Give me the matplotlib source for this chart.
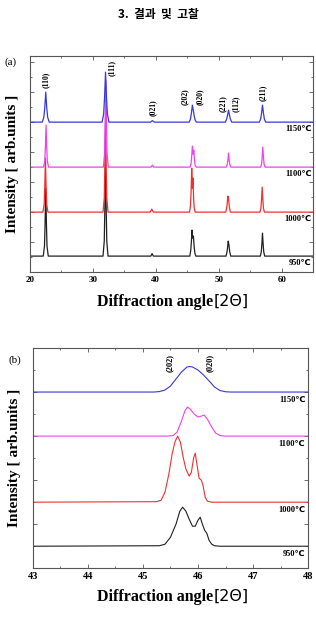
import matplotlib
matplotlib.use("Agg")
from matplotlib import pyplot as plt
from matplotlib.ticker import MultipleLocator, NullFormatter
from matplotlib.offsetbox import TextArea, HPacker, AnchoredOffsetbox

# ---- data: (2theta, intensity in a.u.) ----
temps = ['950℃', '1000℃', '1100℃', '1150℃']
colors = ['#202020', '#f03030', '#f040f0', '#3838d8']

# panel (a): wide scan 20-65 deg
scan_950 = [(20, 0), (22.1, 0), (22.3, 10), (22.4, 34), (22.5, 68), (22.6, 34), (22.7, 10), (22.9, 0),
            (31.6, 0), (31.8, 15), (31.9, 50), (32.0, 100), (32.1, 50), (32.2, 15), (32.4, 0),
            (39.2, 0), (39.4, 2.5), (39.6, 0),
            (45.4, 0), (45.55, 6), (45.65, 15), (45.75, 26), (45.85, 18), (45.97, 20),
            (46.08, 10), (46.2, 3), (46.35, 0),
            (51.15, 0), (51.3, 4), (51.4, 9), (51.5, 15), (51.62, 11), (51.72, 5), (51.9, 0),
            (56.6, 0), (56.75, 4), (56.85, 12), (56.95, 23), (57.05, 12), (57.15, 4), (57.3, 0),
            (65, 0)]
scan_1000 = [(20, 0), (22.05, 0), (22.25, 8), (22.35, 27), (22.45, 54), (22.55, 27), (22.65, 8), (22.85, 0),
             (31.6, 0), (31.8, 14), (31.9, 48), (32.0, 95), (32.1, 48), (32.2, 14), (32.4, 0),
             (39.1, 0), (39.35, 3), (39.6, 0),
             (45.35, 0), (45.5, 6), (45.6, 20), (45.7, 44), (45.8, 24), (45.9, 34), (46.0, 14),
             (46.1, 4), (46.25, 0),
             (51.1, 0), (51.25, 4), (51.35, 9), (51.45, 16), (51.58, 12), (51.68, 5), (51.85, 0),
             (56.55, 0), (56.7, 4), (56.8, 13), (56.9, 25), (57.0, 13), (57.1, 4), (57.25, 0),
             (65, 0)]
scan_1100 = [(20, 0), (22.15, 0), (22.35, 6), (22.45, 21), (22.55, 42), (22.65, 21), (22.75, 6), (22.95, 0),
             (31.65, 0), (31.85, 13), (31.95, 44), (32.05, 87), (32.15, 44), (32.25, 13), (32.45, 0),
             (39.25, 0), (39.45, 2), (39.65, 0),
             (45.45, 0), (45.6, 4), (45.7, 11), (45.8, 21), (45.92, 13), (46.03, 17), (46.13, 8),
             (46.23, 2), (46.4, 0),
             (51.2, 0), (51.35, 3), (51.45, 7), (51.55, 14), (51.65, 7), (51.75, 3), (51.9, 0),
             (56.65, 0), (56.8, 3), (56.9, 10), (57.0, 20), (57.1, 10), (57.2, 3), (57.35, 0),
             (65, 0)]
scan_1150 = [(20, 0), (21.95, 0), (22.2, 5), (22.35, 15), (22.5, 30), (22.65, 15), (22.8, 5), (23.05, 0),
             (31.45, 0), (31.7, 8), (31.85, 25), (32.0, 50), (32.15, 25), (32.3, 8), (32.55, 0),
             (39.15, 0), (39.45, 1.5), (39.75, 0),
             (45.3, 0), (45.5, 3), (45.65, 9), (45.8, 17), (45.95, 12), (46.1, 6), (46.25, 2), (46.45, 0),
             (51.05, 0), (51.25, 3), (51.4, 7), (51.55, 12), (51.7, 7), (51.85, 3), (52.05, 0),
             (56.45, 0), (56.65, 3), (56.8, 9), (56.95, 17), (57.1, 9), (57.25, 3), (57.45, 0),
             (65, 0)]

# panel (b): zoom 43-48 deg
zoom_950 = [(43, 0), (45.3, 0.5), (45.4, 2), (45.5, 9), (45.6, 22), (45.67, 35), (45.72, 39),
            (45.78, 35), (45.84, 27), (45.9, 20), (45.95, 20), (46.0, 26), (46.04, 29),
            (46.08, 22), (46.12, 16), (46.16, 13), (46.2, 6), (46.25, 2), (46.3, 0.5),
            (46.4, 0), (48, 0)]
zoom_1000 = [(43, 0), (45.25, 0.5), (45.33, 2), (45.4, 10), (45.47, 28), (45.53, 48),
             (45.58, 60), (45.63, 66), (45.68, 60), (45.73, 45), (45.78, 33), (45.84, 26),
             (45.88, 30), (45.92, 44), (45.95, 49), (45.98, 38), (46.02, 24), (46.06, 22),
             (46.09, 17), (46.13, 5), (46.17, 1), (46.25, 0), (48, 0)]
zoom_1100 = [(43, 0), (45.45, 0), (45.55, 0.5), (45.62, 4), (45.7, 15), (45.76, 25),
             (45.81, 29), (45.86, 27), (45.93, 22), (46.0, 19), (46.06, 20), (46.11, 21),
             (46.17, 17), (46.25, 9), (46.32, 3), (46.4, 0.5), (46.5, 0), (48, 0)]
zoom_1150 = [(43, 0), (45.2, 0), (45.3, 0.5), (45.4, 2), (45.5, 6), (45.6, 13), (45.7, 20),
             (45.8, 25), (45.85, 25.5), (45.9, 25), (46.0, 22), (46.1, 17), (46.22, 10),
             (46.3, 5), (46.4, 1.5), (46.5, 0.3), (46.6, 0), (48, 0)]

scans_a = [scan_950, scan_1000, scan_1100, scan_1150]
scans_b = [zoom_950, zoom_1000, zoom_1100, zoom_1150]
offsets_a = [16, 60, 105, 150]
offsets_b = [22, 66, 132, 176]

hkl_a = ['(110)', '(111)', '(021)', '(202)', '(020)', '(221)', '(112)', '(211)']
hkl_a_pos = [(22.5, 192), (33.0, 204), (39.5, 164), (44.6, 175), (47.0, 175),
             (50.6, 169), (52.7, 168), (57.0, 179)]
hkl_b = ['(202)', '(020)']
hkl_b_pos = [(45.49, 205), (46.22, 205)]

SERIF = ['Liberation Serif', 'DejaVu Sans']


def xrd_panel(ax, scans, offsets, xlim, ylim, xmaj, xmin, ymaj, tick_size, lw):
    for scan, off, c in zip(scans, offsets, colors):
        xs = [p[0] for p in scan]
        ys = [p[1] + off for p in scan]
        ax.plot(xs, ys, color=c, lw=lw)
    ax.set_xlim(*xlim)
    ax.set_ylim(*ylim)
    ax.xaxis.set_major_locator(MultipleLocator(xmaj))
    ax.xaxis.set_minor_locator(MultipleLocator(xmin))
    ax.yaxis.set_major_locator(MultipleLocator(ymaj))
    ax.yaxis.set_minor_locator(MultipleLocator(ymaj / 2))
    ax.yaxis.set_major_formatter(NullFormatter())
    ax.tick_params(which='both', direction='in', top=True, right=True, width=0.6, color='#555555')
    ax.tick_params(which='major', length=3, pad=3)
    ax.tick_params(which='minor', length=1.5)
    for lab in ax.get_xticklabels():
        lab.set_family(SERIF)
        lab.set_weight('bold')
        lab.set_size(tick_size)
    for s in ax.spines.values():
        s.set_color('#555555')
        s.set_linewidth(0.8)


def x_title(fig, y):
    t1 = TextArea("Diffraction angle", textprops=dict(family=SERIF, weight='bold', size=11.5))
    t2 = TextArea("[2Θ]", textprops=dict(family='DejaVu Sans', size=11.5))
    box = HPacker(children=[t1, t2], align='baseline', pad=0, sep=0)
    anc = AnchoredOffsetbox(loc='center', child=box, frameon=False, pad=0, borderpad=0,
                            bbox_to_anchor=(0.547, y), bbox_transform=fig.transFigure)
    fig.add_artist(anc)


fig = plt.figure(figsize=(3.16, 6.17), dpi=100)

fig.text(0.5, 0.976, '3.  결과  및  고찰', ha='center', va='center', size=8.5,
         weight='bold', family=['Noto Sans CJK KR', 'DejaVu Sans'])

# ---- panel (a) ----
ax1 = fig.add_axes([0.095, 0.559, 0.896, 0.350])
xrd_panel(ax1, scans_a, offsets_a, (20, 65), (0, 216), 10, 5, 30, 6.5, 0.9)
for lab, (x, y) in zip(hkl_a, hkl_a_pos):
    ax1.text(x, y, lab, rotation=90, ha='center', va='center', size=5.5,
             weight='bold', family=SERIF)
for t, off in zip(temps, offsets_a):
    ax1.text(0.995, off - 7, t, transform=ax1.get_yaxis_transform(), ha='right', va='center',
             size=6, weight='bold', family=SERIF)
fig.text(0.032, 0.9, '(a)', ha='center', va='center', size=8, family=SERIF)
fig.text(0.038, 0.734, 'Intensity [ arb.units ]', rotation=90, ha='center', va='center',
         size=11, weight='bold', family=SERIF)
x_title(fig, 0.5105)

# ---- panel (b) ----
ax2 = fig.add_axes([0.104, 0.079, 0.871, 0.357])
xrd_panel(ax2, scans_b, offsets_b, (43, 48), (0, 220), 1, 0.5, 44, 7.5, 0.8)
for lab, (x, y) in zip(hkl_b, hkl_b_pos):
    ax2.text(x, y, lab, rotation=90, ha='center', va='center', size=6,
             weight='bold', family=SERIF)
for t, off in zip(temps, offsets_b):
    ax2.text(0.99, off - 8, t, transform=ax2.get_yaxis_transform(), ha='right', va='center',
             size=6, weight='bold', family=SERIF)
fig.text(0.047, 0.4165, '(b)', ha='center', va='center', size=8, family=SERIF)
fig.text(0.047, 0.258, 'Intensity [ arb.units ]', rotation=90, ha='center', va='center',
         size=11, weight='bold', family=SERIF)
x_title(fig, 0.0324)

fig.savefig('out.png', dpi=100)
